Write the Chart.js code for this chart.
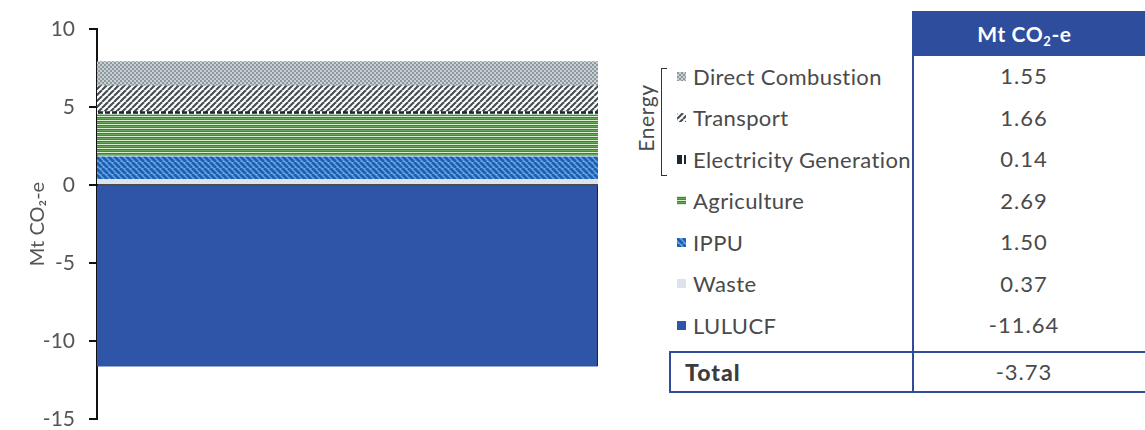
<!DOCTYPE html>
<html>
<head>
<meta charset="utf-8">
<script src="https://cdn.jsdelivr.net/npm/chart.js@4/dist/chart.umd.min.js"></script>
<style>
  html, body { margin: 0; padding: 0; background: #fff; }
  body { width: 1145px; height: 430px; position: relative; overflow: hidden;
         font-family: Lato, "Open Sans", sans-serif; color: #4a4a4a; }
  #chartBox { position: absolute; left: 0; top: 0; width: 612px; height: 430px; }
  .row { position: absolute; left: 677px; height: 30px; display: flex; align-items: center;
         font-size: 22px; letter-spacing: 0.4px; white-space: nowrap; }
  .row canvas { width: 9px; height: 9px; margin-right: 7px; flex: none; }
  .val { position: absolute; left: 913px; width: 222px; height: 30px; line-height: 30px;
         text-align: center; font-size: 22px; letter-spacing: 1px; }
  #head { position: absolute; left: 912px; top: 11px; width: 233px; height: 45px;
          background: #2e4d9c; color: #fff; font-weight: bold; font-size: 21px;
          line-height: 45px; text-align: center; box-sizing: border-box; padding-right: 8px;
          letter-spacing: 0.6px; }
  #head sub { font-size: 13px; vertical-align: -4px; line-height: 0; }
  #divider { position: absolute; left: 912px; top: 56px; width: 2px; height: 296px; background: #2e4d9c; }
  #totalBox { position: absolute; left: 669px; top: 351px; width: 490px; height: 42px;
              border: 2px solid #2e4d9c; box-sizing: border-box; }
  #totalDiv { position: absolute; left: 912px; top: 351px; width: 2px; height: 42px; background: #2e4d9c; }
  #totalLabel { position: absolute; left: 685px; top: 357px; height: 30px; line-height: 30px;
                font-weight: 900; font-size: 23px; letter-spacing: 1px; color: #3c3c3c; }
  #energy { position: absolute; left: 645px; top: 118px; transform: translate(-50%, -50%) rotate(-90deg);
            font-size: 21px; letter-spacing: 0.6px; white-space: nowrap; }
  #bracket { position: absolute; left: 661px; top: 68px; width: 5px; height: 106px;
             border-left: 1.5px solid #333; border-top: 1.5px solid #333; border-bottom: 1.5px solid #333; }
</style>
</head>
<body>
<div id="chartBox"><canvas id="chart"></canvas></div>
<div id="side"></div>
<script>
// Sector emissions, Mt CO2-e (legend / table order)
const categories = ['Emissions'];
const sectorNames = ['Direct Combustion', 'Transport', 'Electricity Generation', 'Agriculture', 'IPPU', 'Waste', 'LULUCF'];
const sectorValues = [1.55, 1.66, 0.14, 2.69, 1.50, 0.37, -11.64];
const yTickValues = [10, 5, 0, -5, -10, -15];
const valueHeader = 'Mt CO<sub>2</sub>-e';
const axisTitle = 'Mt CO\u2082-e';
const totalName = 'Total';

// Fill styles for each sector
function makePattern(kind) {
  const c = document.createElement('canvas');
  const g = c.getContext('2d');
  if (kind === 'dots') {
    c.width = 4; c.height = 4;
    g.fillStyle = '#c6d0d5'; g.fillRect(0, 0, 4, 4);
    g.fillStyle = '#8e989d'; g.fillRect(0, 0, 2, 2); g.fillRect(2, 2, 2, 2);
  } else if (kind === 'forward') {
    c.width = 6; c.height = 6;
    g.fillStyle = '#ffffff'; g.fillRect(0, 0, 6, 6);
    g.strokeStyle = '#454d52'; g.lineWidth = 2.1;
    [-6, 0, 6].forEach(ox => {
      g.beginPath(); g.moveTo(ox, 6); g.lineTo(ox + 6, 0); g.stroke();
    });
  } else if (kind === 'dash') {
    c.width = 7; c.height = 3;
    g.fillStyle = '#1b2833'; g.fillRect(0, 0, 7, 3);
    g.fillStyle = '#ffffff'; g.fillRect(5, 0, 2, 3);
  } else if (kind === 'hlines') {
    c.width = 4; c.height = 4;
    g.fillStyle = '#dcebd4'; g.fillRect(0, 0, 4, 1);
    g.fillStyle = '#3f8239'; g.fillRect(0, 1, 4, 1);
    g.fillStyle = '#66a659'; g.fillRect(0, 2, 4, 1);
    g.fillStyle = '#45883e'; g.fillRect(0, 3, 4, 1);
  } else if (kind === 'back') {
    c.width = 6; c.height = 6;
    g.fillStyle = '#66a6e6'; g.fillRect(0, 0, 6, 6);
    g.strokeStyle = '#1f5fb2'; g.lineWidth = 2.8;
    [-6, 0, 6].forEach(ox => {
      g.beginPath(); g.moveTo(ox, 0); g.lineTo(ox + 6, 6); g.stroke();
    });
  }
  return g.createPattern(c, 'repeat');
}

const sectorFills = {
  'Direct Combustion': makePattern('dots'),
  'Transport': makePattern('forward'),
  'Electricity Generation': makePattern('dash'),
  'Agriculture': makePattern('hlines'),
  'IPPU': makePattern('back'),
  'Waste': '#dde3ec',
  'LULUCF': '#2e55a7'
};

// Stack from the bottom: LULUCF (negative), then Waste upwards to Direct Combustion
const datasets = sectorNames.map((name, i) => ({
  label: name,
  data: [sectorValues[i]],
  backgroundColor: sectorFills[name],
  borderColor: name === 'LULUCF' ? '#1a2540' : 'rgba(255,255,255,0.85)',
  borderWidth: name === 'LULUCF' ? { top: 0, right: 1.5, bottom: 0, left: 0 }
             : (name === 'Agriculture' || name === 'IPPU') ? { top: 1, right: 0, bottom: 0, left: 0 } : 0,
  borderSkipped: false,
  barPercentage: 1,
  categoryPercentage: 1
})).reverse();

const zeroLine = {
  id: 'zeroLine',
  afterDatasetsDraw(chart) {
    const { ctx, chartArea, scales } = chart;
    const y = scales.y.getPixelForValue(0);
    ctx.save();
    ctx.strokeStyle = '#111';
    ctx.lineWidth = 1.5;
    ctx.beginPath();
    ctx.moveTo(chartArea.left, y);
    ctx.lineTo(chartArea.right, y);
    ctx.stroke();
    ctx.restore();
  }
};

new Chart(document.getElementById('chart'), {
  type: 'bar',
  data: { labels: categories, datasets },
  options: {
    responsive: true,
    maintainAspectRatio: false,
    animation: false,
    layout: { padding: { top: 29, bottom: 11, left: 26, right: 14 } },
    plugins: { legend: { display: false }, tooltip: { enabled: false } },
    scales: {
      x: { stacked: true, display: false },
      y: {
        stacked: true,
        min: Math.min(...yTickValues),
        max: Math.max(...yTickValues),
        afterBuildTicks(scale) { scale.ticks = yTickValues.map(v => ({ value: v })); },
        afterFit(scale) { scale.width = 71; scale.paddingTop = 11; scale.paddingBottom = 11; },
        ticks: { color: '#555', font: { family: 'Lato', size: 21 }, padding: 14 },
        grid: { display: true, drawOnChartArea: false, drawTicks: true, tickLength: 8,
                tickColor: '#111', lineWidth: 2 },
        border: { display: true, color: '#111', width: 2 },
        title: { display: true, text: axisTitle, color: '#555',
                 font: { family: 'Lato', size: 20 }, padding: { top: 0, bottom: 0 } }
      }
    }
  },
  plugins: [zeroLine]
});

// Legend and value table
const side = document.getElementById('side');
const rowTop = 61, rowStep = 41.5;
side.insertAdjacentHTML('beforeend', '<div id="head">' + valueHeader + '</div><div id="divider"></div>');
sectorNames.forEach((name, i) => {
  const top = rowTop + i * rowStep;
  const row = document.createElement('div');
  row.className = 'row';
  row.style.top = top + 'px';
  const sw = document.createElement('canvas');
  sw.width = 9; sw.height = 9;
  const sg = sw.getContext('2d');
  sg.fillStyle = sectorFills[name]; sg.fillRect(0, 0, 9, 9);
  row.appendChild(sw);
  row.appendChild(document.createTextNode(name));
  side.appendChild(row);
  const val = document.createElement('div');
  val.className = 'val';
  val.style.top = top + 'px';
  val.textContent = sectorValues[i].toFixed(2);
  side.appendChild(val);
});
const total = sectorValues.reduce((a, b) => a + b, 0);
side.insertAdjacentHTML('beforeend',
  '<div id="totalBox"></div><div id="totalDiv"></div>' +
  '<div id="totalLabel">' + totalName + '</div>' +
  '<div class="val" style="top:357px">' + total.toFixed(2) + '</div>' +
  '<div id="energy">Energy</div><div id="bracket"></div>');
</script>
</body>
</html>
